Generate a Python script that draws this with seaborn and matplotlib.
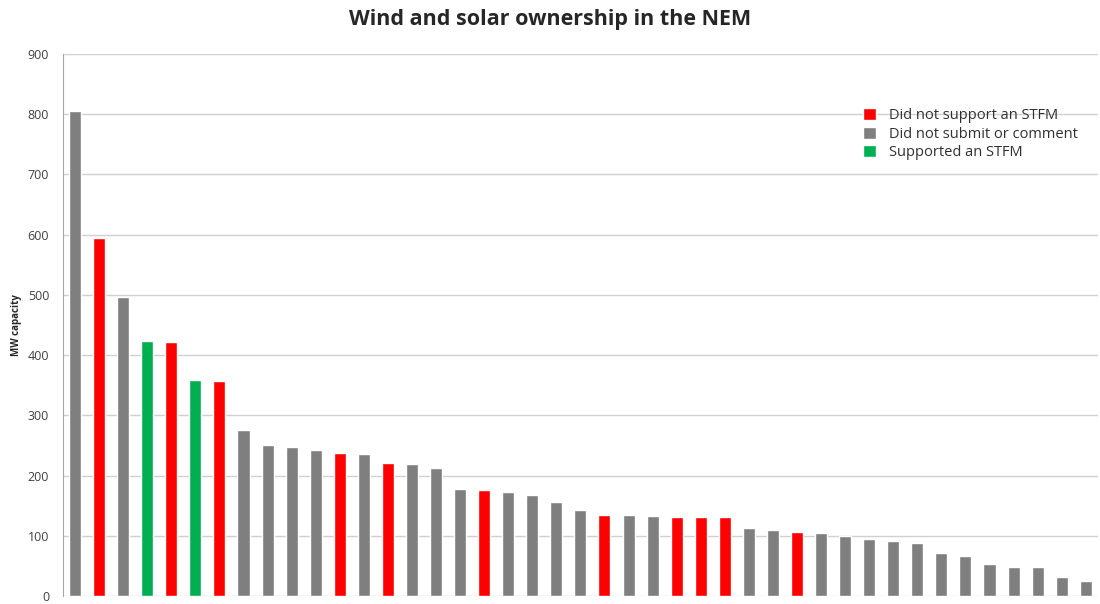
import matplotlib
matplotlib.use("Agg")
import matplotlib.pyplot as plt
import seaborn as sns
import pandas as pd

# MW capacity per owner, sorted, with submission status
capacity = [805, 595, 497, 423, 421, 359, 357, 276, 251, 247, 242, 238, 236, 221,
            219, 213, 178, 176, 172, 168, 156, 143, 135, 134, 133, 132, 131, 131,
            113, 109, 107, 105, 100, 95, 91, 88, 72, 66, 53, 48, 48, 32, 25]
status_code = ["G", "R", "G", "S", "R", "S", "R", "G", "G", "G", "G", "R", "G", "R",
               "G", "G", "G", "R", "G", "G", "G", "G", "R", "G", "G", "R", "R", "R",
               "G", "G", "R", "G", "G", "G", "G", "G", "G", "G", "G", "G", "G", "G", "G"]
status_names = {"R": "Did not support an STFM",
                "G": "Did not submit or comment",
                "S": "Supported an STFM"}
palette = {"Did not support an STFM": "#ff0000",
           "Did not submit or comment": "#7f7f7f",
           "Supported an STFM": "#00b050"}

df = pd.DataFrame({
    "owner": [str(i + 1) for i in range(len(capacity))],
    "mw": capacity,
    "status": [status_names[s] for s in status_code],
})

sns.set_style("white")
plt.rcParams["font.family"] = ["Open Sans", "DejaVu Sans"]

fig = plt.figure(figsize=(11, 6.04), dpi=100)
ax = fig.add_axes([0.0573, 0.0132, 0.9407, 0.8974])

sns.barplot(data=df, x="owner", y="mw", hue="status", palette=palette,
            hue_order=list(palette.keys()), dodge=False, width=0.5,
            order=df["owner"], ax=ax, saturation=1)

ax.set_ylim(0, 900)
ax.set_xlim(-0.5, len(capacity) - 0.5)
ax.set_yticks(range(0, 901, 100))
ax.tick_params(axis="y", labelsize=9, colors="#404040", length=0, pad=10)
ax.set_xticks([])
ax.set_xlabel("")
ax.set_ylabel("MW capacity", fontsize=7, fontweight="bold")
ax.yaxis.set_label_coords(-0.040, 0.5)
ax.yaxis.grid(True, color="#d0d0d0", linewidth=1)
ax.set_axisbelow(True)
for side in ["top", "right", "bottom"]:
    ax.spines[side].set_visible(False)
ax.spines["left"].set_color("#a6a6a6")

fig.suptitle("Wind and solar ownership in the NEM", fontsize=15.5,
             fontweight="bold", y=0.985)

leg = ax.legend(loc="upper left", bbox_to_anchor=(0.76, 0.925), frameon=False,
                fontsize=10.5, handlelength=0.9, handleheight=0.9,
                handletextpad=0.9, labelspacing=0.25)
for t in leg.get_texts():
    t.set_color("#303030")

fig.savefig("out.png", dpi=100)
